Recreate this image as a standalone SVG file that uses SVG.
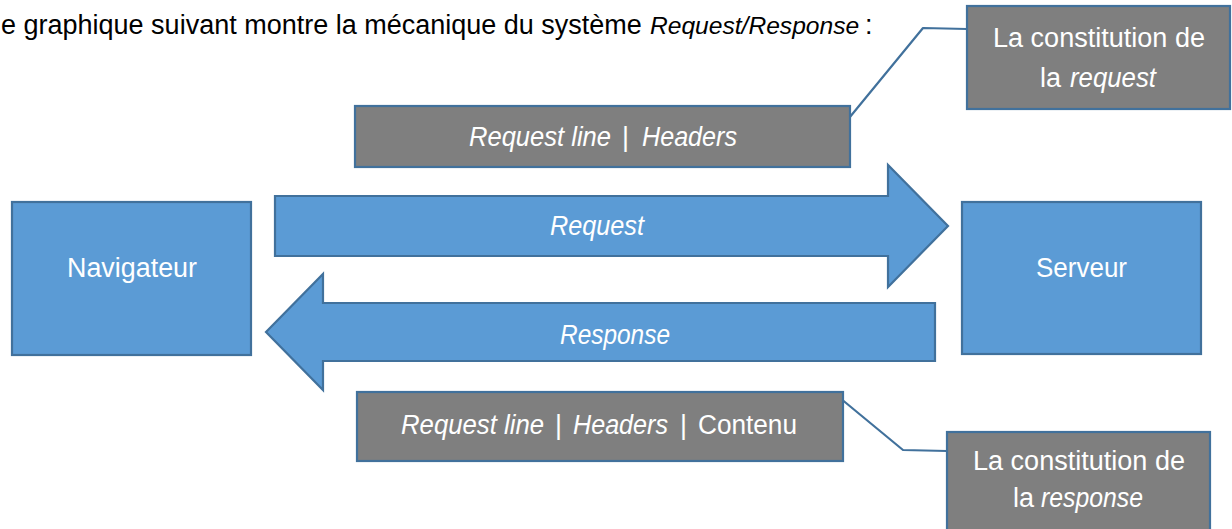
<svg xmlns="http://www.w3.org/2000/svg" width="1232" height="529" viewBox="0 0 1232 529">
<style>
.blue{fill:#5B9BD5;stroke:#41719C;stroke-width:2.2}
.gray{fill:#7F7F7F;stroke:#41719C;stroke-width:2.2}
.lead{fill:none;stroke:#41719C;stroke-width:2.2;stroke-linejoin:round}
text{font-family:"Liberation Sans",Arial,sans-serif;font-size:27px}
.w{fill:#FFFFFF}
.k{fill:#000000}
.i{font-style:italic}
</style>
<rect width="1232" height="529" fill="#FFFFFF"/>
<g id="title">
<text class="k" x="1" y="34">e graphique suivant montre la mécanique du système<tspan class="i" x="650" font-size="24.6">Request/Response</tspan><tspan x="865">:</tspan></text>
</g>
<g id="connectors">
<polyline class="lead" points="967,29 923,28 845,123"/>
<polyline class="lead" points="840,398 903,450 947,451"/>
</g>
<g id="callout-request">
<rect class="gray" x="967" y="6" width="263" height="103"/>
<text class="w" x="993" y="47" textLength="212" lengthAdjust="spacingAndGlyphs">La constitution de</text>
<text class="w" x="1040" y="87">la</text>
<text class="w i" x="1070" y="87" textLength="86" lengthAdjust="spacingAndGlyphs">request</text>
</g>
<g id="request-content">
<rect class="gray" x="355" y="106" width="495" height="61"/>
<text class="w i" x="469" y="146" textLength="142" lengthAdjust="spacingAndGlyphs">Request line</text>
<text class="w" x="622" y="146">|</text>
<text class="w i" x="642" y="146" textLength="95" lengthAdjust="spacingAndGlyphs">Headers</text>
</g>
<g id="navigateur">
<rect class="blue" x="12" y="202" width="239" height="153"/>
<text class="w" x="67" y="277" textLength="130" lengthAdjust="spacingAndGlyphs">Navigateur</text>
</g>
<g id="serveur">
<rect class="blue" x="962" y="202" width="239" height="152"/>
<text class="w" x="1036" y="277" textLength="91" lengthAdjust="spacingAndGlyphs">Serveur</text>
</g>
<g id="request-arrow">
<polygon class="blue" points="275,196 888,196 888,165 948,226 888,287 888,256 275,256"/>
<text class="w i" x="550" y="235" textLength="94" lengthAdjust="spacingAndGlyphs">Request</text>
</g>
<g id="response-arrow">
<polygon class="blue" points="266,332 323,274 323,303 935,303 935,361 323,361 323,390"/>
<text class="w i" x="560" y="344" textLength="110" lengthAdjust="spacingAndGlyphs">Response</text>
</g>
<g id="response-content">
<rect class="gray" x="357" y="392" width="486" height="69"/>
<text class="w i" x="401" y="434" textLength="143" lengthAdjust="spacingAndGlyphs">Request line</text>
<text class="w" x="555" y="434">|</text>
<text class="w i" x="573" y="434" textLength="95" lengthAdjust="spacingAndGlyphs">Headers</text>
<text class="w" x="680" y="434">|</text>
<text class="w" x="698" y="434" textLength="99" lengthAdjust="spacingAndGlyphs">Contenu</text>
</g>
<g id="callout-response">
<rect class="gray" x="947" y="432" width="263" height="102"/>
<text class="w" x="973" y="470" textLength="212" lengthAdjust="spacingAndGlyphs">La constitution de</text>
<text class="w" x="1013" y="507">la</text>
<text class="w i" x="1041" y="507" textLength="102" lengthAdjust="spacingAndGlyphs">response</text>
</g>
</svg>
